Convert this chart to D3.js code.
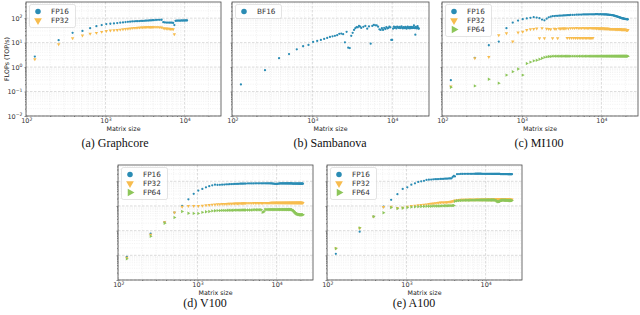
<!DOCTYPE html>
<html>
<head>
<meta charset="utf-8">
<script src="https://cdn.jsdelivr.net/npm/d3@7"></script>
<style>
  body { margin: 0; background: #fff; }
  svg { display: block; font-family: "DejaVu Sans", sans-serif; }
  .caption { font-family: "Liberation Serif", serif; font-size: 12px; fill: #111; }
  .axis text { font-size: 6.5px; fill: #333; font-family: "DejaVu Sans", sans-serif; }
  .axis line { stroke: #444; stroke-width: 0.6; }
  .axis-label { font-size: 6.3px; fill: #222; }
  .legend text { font-size: 7.3px; fill: #333; }
</style>
</head>
<body>
<svg width="640" height="315"></svg>
<script>
// matrix sizes: every 128 up to 4096, then every 256
const sizes = [128, 256, 384, 512, 640, 768, 896, 1024, 1152, 1280, 1408, 1536, 1664, 1792, 1920, 2048,
  2176, 2304, 2432, 2560, 2688, 2816, 2944, 3072, 3200, 3328, 3456, 3584, 3712, 3840, 3968, 4096,
  4352, 4608, 4864, 5120, 5376, 5632, 5888, 6144, 6400, 6656, 6912, 7168, 7424, 7680, 7936, 8192,
  8448, 8704, 8960, 9216, 9472, 9728, 9984, 10240, 10496, 10752, 11008, 11264, 11520, 11776, 12032, 12288,
  12544, 12800, 13056, 13312, 13568, 13824, 14080, 14336, 14592, 14848, 15104, 15360, 15616, 15872, 16128, 16384,
  16640, 16896, 17152, 17408, 17664, 17920, 18176, 18432, 18688, 18944, 19200, 19456, 19712, 19968, 20224, 20480,
  20736, 20992, 21248, 21504];

// TOP/s, aligned with sizes
const graphcoreFp16 = [2.7, 12.5, 25, 30, 39, 47, 52, 57, 59, 61, 63, 65, 67, 69, 71, 72,
  73, 74, 75, 75, 76, 77, 77, 78, 79, 80, 80, 81, 82, 82, 83, 83,
  84, 85, 85, 86, 68, 67, 66, 66, 65, 66, 65, 64, 52, 78, 79, 80,
  80, 79, 80, 81, 80, 81, 80, 81, 82, 81];
const graphcoreFp32 = [2.1, 8.5, 15, 19.4, 23, 25, 27.5, 30, 31, 32, 33, 34, 35, 36, 37, 38,
  39, 40, 40, 41, 41, 42, 42, 42, 43, 43, 43, 43, 43, 43, 43, 43,
  43, 43, 42, 42, 39, 38, 38, 37, 37, 36, 36, 35, 22];

const sambanovaBf16 = [0.195, 0.75, 2.3, 3.4, 5.3, 7.1, 8.0, 10.7, 11.7, 12.9, 14.1, 15.5, 17, 18, 19, 20,
  23, 23.5, 22, 10.3, 27.5, 6.2, 6.0, 19, 25, 33, 39, 43, 42, 48, 45, 40,
  44, 48, 37, 46, 9, 48, 53, 51, 51, 45, 35, 33, 39, 33, 40, 36,
  43, 38, 40, 45, 42, 12.9, 12.9, 37, 45, 40, 43, 38, 45, 42, 40, 44,
  39, 42, 46, 40, 38, 43, 41, 39, 44, 40, 37, 42, 45, 39, 41, 43,
  38, 40, 44, 42, 39, 41, 43, 40, 51, 42, 39, 21, 44, 40, 38, 42,
  47, 40, 38, 37];

const mi100Fp16 = [0.29, 2.4, 7.8, 11, 39, 66, 80, 91, 97, 103, 110, 106, 100, 88, 82, 95,
  108, 115, 120, 122, 124, 125, 126, 127, 128, 129, 130, 131, 132, 133, 134, 135,
  136, 137, 138, 139, 140, 140, 141, 141, 142, 142, 143, 143, 143, 144, 144, 144,
  145, 145, 145, 144, 144, 145, 144, 143, 143, 142, 142, 141, 141, 140, 139, 138,
  137, 136, 135, 134, 133, 132, 130, 128, 126, 124, 122, 120, 118, 116, 114, 112,
  110, 108, 106, 104, 102, 100, 99, 98, 97, 96, 95, 94, 93, 93, 92, 92,
  91, 91, 90, 90];
const mi100Fp32 = [0.16, 2.3, 2.6, 20, 24, 11, 26, 28, 33, 35, 36, 38, null, 39, null, 37,
  36, 35, null, 37, 36, null, 38, 37, 38, 38, 38, 38, null, 38, null, 39,
  39, 39, 40, 39, 39, 39, 40, 39, 39, 39, 39, 40, 39, 39, 39, 39,
  39, 38, 39, 38, 38, 38, 38, 38, 38, 38, 37, 37, 37, 37, 37, 37,
  36, 36, 36, 36, 36, 36, 36, 36, 36, 35, 35, 35, 35, 35, 35, 35,
  35, 35, 35, 35, 34, 34, 34, 34, 34, 34, 34, 34, 34, 34, 34, 33,
  33, 33, 33, 33];
// slower FP32 runs on MI100 (odd sizes)
const mi100Fp32SlowSizes = [1664, 1920, 2432, 2816, 3712, 3968, 4224, 4480, 4736, 4992, 5248,
  5504, 5760, 6016, 6272, 6528, 6784, 7040, 7296, 7552, 7808];
const mi100Fp32Slow = [15, 15, 15, 15, 15.5, 15.5, 15.5, 15.5, 15.5, 15.5, 15.5,
  15.5, 15.5, 15.5, 15.5, 15.5, 15.5, 15.5, 15.5, 15.5, 15.5];
const mi100Fp64 = [0.15, 0.17, 0.32, 0.22, 0.47, 0.65, 0.83, 0.47, 1.4, 1.6, 1.8, 1.9, 2.1, 2.3, 2.5, 2.6,
  2.7, 2.7, 2.8, 2.8, 2.8, 2.8, 2.8, 2.8, 2.8, 2.8, 2.8, 2.8, 2.8, 2.8, 2.8, 2.8,
  2.8, 2.8, 2.8, 2.8, 2.8, 2.8, 2.8, 2.8, 2.8, 2.8, 2.8, 2.8, 2.8, 2.8, 2.8, 2.8,
  2.8, 2.8, 2.8, 2.8, 2.8, 2.8, 2.8, 2.8, 2.8, 2.8, 2.8, 2.8, 2.8, 2.8, 2.8, 2.8,
  2.8, 2.8, 2.8, 2.8, 2.8, 2.8, 2.8, 2.8, 2.8, 2.8, 2.8, 2.8, 2.8, 2.8, 2.8, 2.8,
  2.8, 2.8, 2.8, 2.8, 2.8, 2.8, 2.8, 2.8, 2.8, 2.8, 2.8, 2.8, 2.8, 2.8, 2.8, 2.8,
  2.8, 2.8, 2.8, 2.8];

const v100Fp16 = [0.087, 0.76, 2.2, 5.4, 10.2, 18.5, 31, 42, 49, 57, 63, 69, 73, 71, 72, 73,
  74, 75, 75, 76, 77, 77, 78, 78, 79, 79, 80, 80, 80, 81, 81, 81,
  82, 82, 82, 82, 83, 83, 83, 83, 83, 83, 83, 83, 83, 83, 83, 83,
  82, 82, 81, 80, 79, 79, 78, 79, 80, 81, 82, 82, 82, 82, 82, 82,
  82, 82, 82, 82, 82, 82, 82, 82, 82, 82, 82, 82, 82, 81, 81, 81,
  81, 81, 81, 81, 81, 81, 81, 81, 81, 81, 80, 80, 80, 80, 80, 80,
  80, 80, 80, 80];
const v100Fp32 = [0.08, 0.68, 2.2, 5.4, 9.3, 10, 10, 9.9, 10.2, 10.6, 11, 11.3, 11.5, 11.7, 11.8, 12,
  12, 12.1, 12.2, 12.3, 12.4, 12.4, 12.5, 12.5, 12.6, 12.6, 12.7, 12.7, 12.8, 12.8, 12.9, 12.9,
  13, 13, 13, 13.1, 13.1, 13.1, 13.2, 13.2, 13.2, 13.2, 13.3, 13.3, 13.3, 13.3, 13.3, 13.3,
  13.4, 13.4, 13.4, 13.4, 13.4, 13.4, 13.4, 13.4, 13.4, 13.4, 13.4, 13.4, 13.5, 13.5, 13.5, 13.5,
  13.5, 13.5, 13.5, 13.5, 13.5, 13.5, 13.5, 13.5, 13.5, 13.5, 13.5, 13.5, 13.5, 13.5, 13.5, 13.5,
  13.5, 13.5, 13.5, 13.5, 13.5, 13.5, 13.5, 13.5, 13.4, 13.4, 13.4, 13.4, 13.4, 13.4, 13.4, 13.4,
  13.4, 13.4, 13.3, 13.3];
const v100Fp64 = [0.072, 0.59, 2.0, 3.4, 6.0, 5.1, 5.0, 5.0, 5.5, 5.8, 6.0, 6.3, 6.4, 6.5, 6.5, 6.6,
  6.6, 6.6, 6.7, 6.7, 6.7, 6.7, 6.8, 6.8, 6.8, 6.8, 6.8, 6.8, 6.9, 6.9, 6.9, 6.9,
  6.9, 6.9, 6.9, 7.0, 7.0, 7.0, 7.0, 7.0, 7.0, 5.6, 5.8, 7.2, 7.2, 7.2, 7.2, 7.2,
  7.2, 7.2, 7.2, 7.2, 7.2, 7.2, 7.2, 7.2, 7.2, 7.2, 7.2, 7.2, 7.2, 7.2, 7.2, 7.2,
  7.2, 7.2, 7.2, 7.2, 7.2, 7.2, 7.2, 7.2, 7.2, 7.2, 7.2, 7.2, 7.0, 6.8, 6.5, 6.2,
  5.9, 5.6, 5.3, 5.1, 4.9, 4.8, 4.7, 4.6, 4.6, 4.5, 4.5, 4.5, 4.4, 4.4, 4.4, 4.4,
  4.4, 4.4, 4.4, 4.4];

const a100Fp16 = [0.115, 0.91, 3.7, 9.3, 17.8, 30, 49, 57, 73, 83, 94, 100, 105, 113, 116, 118,
  120, 121, 122, 123, 124, 125, 126, 127, 128, 129, 130, 131, 132, 150, 165, 158,
  195, 197, 198, 199, 200, 200, 200, 201, 201, 201, 201, 201, 202, 202, 202, 202,
  202, 202, 201, 201, 201, 201, 200, 200, 200, 200, 200, 200, 200, 200, 199, 199,
  199, 199, 199, 199, 198, 198, 198, 198, 198, 198, 198, 197, 197, 197, 197, 197,
  197, 197, 196, 196, 196, 196, 196, 196, 196, 196, 195, 195, 195, 195, 195, 195,
  195, 195, 195, 195];
const a100Fp32 = [0.19, 1.25, 3.7, 9.0, 9.4, 8.2, 8.5, 9.4, 10, 10.3, 10.6, 11, 11.3, 11.6, 12, 12.3,
  12.6, 13, 13.3, 13.5, 13.8, 14, 14, 14, 14.2, 14.3, 14.5, 14.8, 15, 15.5, 16, 16.5,
  17.2, 17.5, 17.8, 17.8, 18, 17.9, 18.1, 18, 18.2, 18, 18.1, 17.9, 18, 18.2, 18.3, 18.1,
  18, 18.2, 18.1, 18, 18.3, 18.2, 18.1, 18, 18.2, 18.4, 18.2, 18.1, 18, 18.3, 18.2, 18.4,
  18.5, 18.3, 18.2, 18.4, 18.6, 18.4, 18.3, 18.5, 18.4, 18.2, 18.3, 18.5, 18.4, 18.3, 18.2, 18.4,
  18.3, 18.5, 18.4, 18.3, 18.2, 18.1, 18.3, 18.2, 18.4, 18.3, 18.2, 18.1, 18, 18.2, 18.1, 18,
  17.9, 18, 17.8, 17.7];
const a100Fp64 = [0.19, 1.3, 3.7, 5.3, 8.7, 7.9, 8.3, 8.7, 9.0, 9.2, 9.4, 9.5, 9.6, 9.7, 9.8, 9.8,
  9.9, 9.9, 10, 10, 10, 10.1, 10.1, 10.2, 10.2, 10.2, 10.3, 10.3, 10.3, 10.4, 10.4, 15.5,
  16.2, 16.5, 16.7, 16.8, 16.9, 17, 17, 17.1, 17.1, 17.2, 17.2, 17.2, 17.3, 17.3, 17.3, 17.3,
  17.4, 17.4, 17.4, 17.4, 17.4, 17.4, 17.5, 17.5, 17.5, 17.5, 17.5, 17.5, 17.5, 17.5, 17.5, 17.5,
  17.4, 17.4, 17.3, 17.2, 16.5, 15.8, 15.2, 15, 14.8, 15, 15.5, 16, 16.5, 17, 17.2, 17.2,
  17.3, 17.2, 17.2, 17.1, 17.1, 17, 17, 17, 16.9, 16.9, 16.8, 16.8, 16.8, 16.7, 16.7, 16.7,
  16.6, 16.6, 16.6, 16.5];

const xDomain = [99, 28840];
const yDomain = [1e-2, Math.pow(10, 2.66)];

const colors = { FP16: "#2a8cb4", BF16: "#2a8cb4", FP32: "#f7bc4e", FP64: "#8dc65a" };
const shapes = { FP16: d3.symbolCircle, BF16: d3.symbolCircle, FP32: d3.symbolTriangle, FP64: d3.symbolTriangle };
const turns = { FP16: 0, BF16: 0, FP32: 180, FP64: 90 };

const panels = [
  { caption: "(a) Graphcore", x: 26, y: 2, w: 195, h: 114, capX: 115, capY: 147, yLabels: true,
    series: [["FP16", sizes, graphcoreFp16], ["FP32", sizes, graphcoreFp32]] },
  { caption: "(b) Sambanova", x: 232, y: 2, w: 197, h: 114, capX: 330, capY: 147,
    series: [["BF16", sizes, sambanovaBf16]] },
  { caption: "(c) MI100", x: 442, y: 2, w: 196, h: 114, capX: 539, capY: 147,
    series: [["FP16", sizes, mi100Fp16], ["FP32", sizes, mi100Fp32],
             ["FP32", mi100Fp32SlowSizes, mi100Fp32Slow], ["FP64", sizes, mi100Fp64]] },
  { caption: "(d) V100", x: 118, y: 165, w: 195, h: 115, capX: 205, capY: 307,
    series: [["FP16", sizes, v100Fp16], ["FP32", sizes, v100Fp32], ["FP64", sizes, v100Fp64]] },
  { caption: "(e) A100", x: 327, y: 165, w: 195, h: 115, capX: 414, capY: 307,
    series: [["FP16", sizes, a100Fp16], ["FP32", sizes, a100Fp32], ["FP64", sizes, a100Fp64]] }
];

const svg = d3.select("svg");

function powLabel(text, d) {
  const e = Math.round(Math.log10(d));
  text.text("10");
  text.append("tspan").attr("dy", "-0.5em").style("font-size", "4.6px").text(e < 0 ? "\u2212" + (-e) : e);
}

function isMajor(d) {
  return Math.abs(Math.log10(d) - Math.round(Math.log10(d))) < 1e-9;
}

function drawPanel(p) {
  const g = svg.append("g").attr("transform", `translate(${p.x},${p.y})`);
  const x = d3.scaleLog().domain(xDomain).range([0, p.w]);
  const y = d3.scaleLog().domain(yDomain).range([p.h, 0]);

  const xTicks = x.ticks(), yTicks = y.ticks();
  const xMajor = xTicks.filter(isMajor), yMajor = yTicks.filter(isMajor);
  const xMinor = xTicks.filter(d => !isMajor(d)), yMinor = yTicks.filter(d => !isMajor(d));

  // grid
  const grid = g.append("g");
  grid.selectAll(".vmin").data(xMinor).join("line")
    .attr("x1", d => x(d)).attr("x2", d => x(d)).attr("y1", 0).attr("y2", p.h)
    .attr("stroke", "#e3e3e3").attr("stroke-width", 0.5).attr("stroke-dasharray", "1,1.3");
  grid.selectAll(".hmin").data(yMinor).join("line")
    .attr("x1", 0).attr("x2", p.w).attr("y1", d => y(d)).attr("y2", d => y(d))
    .attr("stroke", "#e3e3e3").attr("stroke-width", 0.5).attr("stroke-dasharray", "1,1.3");
  grid.selectAll(".vmaj").data(xMajor).join("line")
    .attr("x1", d => x(d)).attr("x2", d => x(d)).attr("y1", 0).attr("y2", p.h)
    .attr("stroke", "#c4c4c4").attr("stroke-width", 0.6).attr("stroke-dasharray", "2.5,1.5");
  grid.selectAll(".hmaj").data(yMajor).join("line")
    .attr("x1", 0).attr("x2", p.w).attr("y1", d => y(d)).attr("y2", d => y(d))
    .attr("stroke", "#c4c4c4").attr("stroke-width", 0.6).attr("stroke-dasharray", "2.5,1.5");

  // axes
  const xAxis = g.append("g").attr("class", "axis").attr("transform", `translate(0,${p.h})`)
    .call(d3.axisBottom(x).tickValues(xMajor).tickSize(1.5).tickPadding(1.2).tickFormat(""));
  xAxis.selectAll(".tick text").each(function(d) { powLabel(d3.select(this), d); });
  g.append("g").attr("class", "axis").attr("transform", `translate(0,${p.h})`)
    .call(d3.axisBottom(x).tickValues(xMinor).tickSize(1).tickFormat(""));

  const yAxis = g.append("g").attr("class", "axis")
    .call(d3.axisLeft(y).tickValues(yMajor).tickSize(1.5).tickPadding(2).tickFormat(""));
  if (p.yLabels) yAxis.selectAll(".tick text").each(function(d) { powLabel(d3.select(this), d); });
  g.append("g").attr("class", "axis")
    .call(d3.axisLeft(y).tickValues(yMinor).tickSize(1).tickFormat(""));
  g.selectAll(".axis .domain").remove();

  // points
  p.series.forEach(([name, xs, vals]) => {
    const pts = vals.map((v, i) => ({ s: xs[i], v })).filter(d => d.v != null);
    const size = name === "FP16" || name === "BF16" ? 4 : 5;
    g.append("g").selectAll("path").data(pts).join("path")
      .attr("transform", d => `translate(${x(d.s)},${y(d.v)}) rotate(${turns[name]})`)
      .attr("d", d3.symbol(shapes[name], size)())
      .attr("fill", colors[name]);
  });

  // frame
  g.append("rect").attr("width", p.w).attr("height", p.h)
    .attr("fill", "none").attr("stroke", "#4a4a4a").attr("stroke-width", 0.8);

  // legend
  const names = [...new Set(p.series.map(s => s[0]))];
  const legend = g.append("g").attr("class", "legend").attr("transform", "translate(3.5,2.5)");
  legend.append("rect").attr("width", 46).attr("height", 9 * names.length + 5).attr("rx", 2)
    .attr("fill", "#fff").attr("fill-opacity", 0.85).attr("stroke", "#d2d2d2").attr("stroke-width", 0.6);
  names.forEach((name, i) => {
    const cy = 7 + 9 * i;
    legend.append("path")
      .attr("transform", `translate(8.5,${cy}) rotate(${turns[name]})`)
      .attr("d", d3.symbol(shapes[name], name === "FP16" || name === "BF16" ? 24 : 26)())
      .attr("fill", colors[name]);
    legend.append("text").attr("x", 21.5).attr("y", cy + 2.6).text(name);
  });

  // labels
  g.append("text").attr("class", "axis-label")
    .attr("x", p.w / 2).attr("y", p.h + 14.6).attr("text-anchor", "middle").text("Matrix size");
  if (p.yLabels) {
    g.append("text").attr("class", "axis-label")
      .attr("transform", `translate(${8.5 - p.x},${p.h / 2}) rotate(-90)`)
      .attr("text-anchor", "middle").text("FLOPs (TOP/s)");
  }
  svg.append("text").attr("class", "caption")
    .attr("x", p.capX).attr("y", p.capY).attr("text-anchor", "middle").text(p.caption);
}

panels.forEach(drawPanel);
</script>
</body>
</html>
